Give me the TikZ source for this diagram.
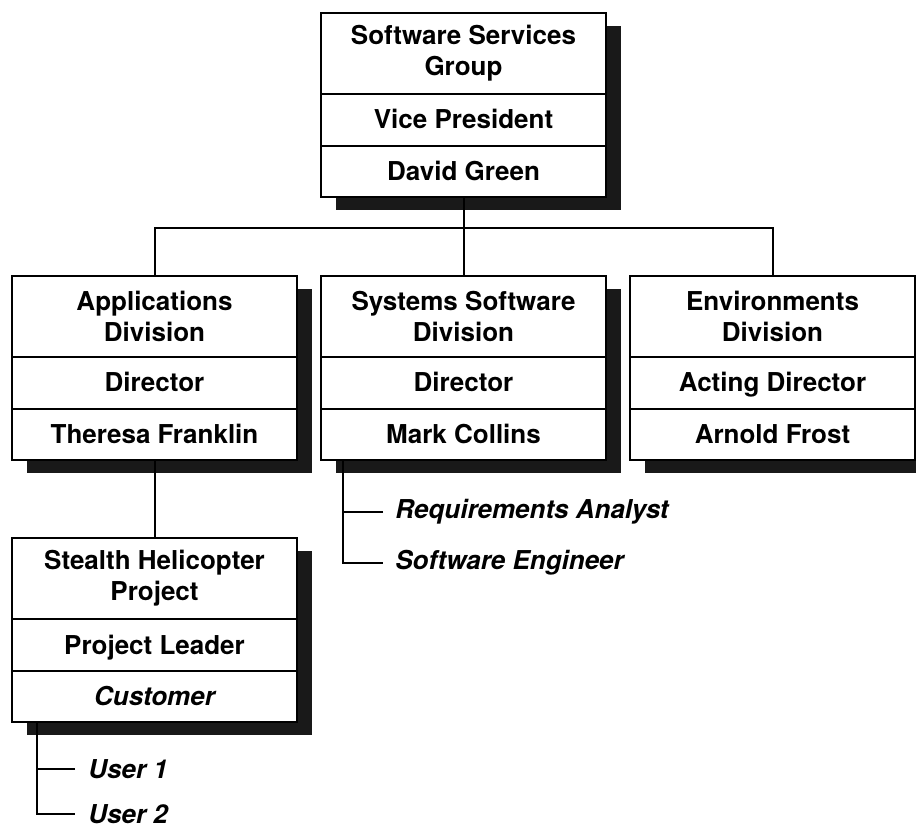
\documentclass[tikz,border=0pt]{standalone}
\usepackage{fontspec}
\setmainfont{TeX Gyre Heros}
\usetikzlibrary{positioning, shadows}
\tikzset{%
	orgrow/.style={
		draw,
		line width=1.2pt,
		fill=white,
		inner sep=0pt,
		outer sep=0pt,
		minimum width=142.5pt,
		align=center,
		font=\fontsize{13}{15.5}\selectfont\bfseries,
		drop shadow={shadow xshift=7.5pt, shadow yshift=-6.5pt, fill=black!90, opacity=1}
	},
	titlerow/.style={orgrow, minimum height=40.5pt},
	rolerow/.style={orgrow, minimum height=26pt, text height=9.5pt, text depth=0.5pt},
	namerow/.style={orgrow, minimum height=25.5pt, text height=9.5pt, text depth=0.5pt},
	staffitem/.style={
		inner sep=0pt,
		anchor=west,
		font=\fontsize{13}{15.5}\selectfont\bfseries\itshape
	},
	link/.style={line width=1pt},
}

\begin{document}
\begin{tikzpicture}[x=0.5pt, y=-0.5pt]
	\useasboundingbox (0,0) rectangle (916,828);

	% Software Services Group
	\node[titlerow, anchor=north west] (ssg-a) at (321,13) {Software Services\\Group};
	\node[rolerow, below=0pt of ssg-a] (ssg-b) {Vice President};
	\node[namerow, below=0pt of ssg-b] (ssg-c) {David Green};

	% Applications Division
	\node[titlerow, anchor=north west] (app-a) at (12,276) {Applications\\Division};
	\node[rolerow, below=0pt of app-a] (app-b) {Director};
	\node[namerow, below=0pt of app-b] (app-c) {Theresa Franklin};

	% Systems Software Division
	\node[titlerow, anchor=north west] (sys-a) at (321,276) {Systems Software\\Division};
	\node[rolerow, below=0pt of sys-a] (sys-b) {Director};
	\node[namerow, below=0pt of sys-b] (sys-c) {Mark Collins};

	% Environments Division
	\node[titlerow, anchor=north west] (env-a) at (630,276) {Environments\\Division};
	\node[rolerow, below=0pt of env-a] (env-b) {Acting Director};
	\node[namerow, below=0pt of env-b] (env-c) {Arnold Frost};

	% Stealth Helicopter Project
	\node[titlerow, anchor=north west] (shp-a) at (12,538) {Stealth Helicopter\\Project};
	\node[rolerow, below=0pt of shp-a] (shp-b) {Project Leader};
	\node[namerow, below=0pt of shp-b] (shp-c) {\itshape Customer};

	% Draw the tree lines
	\coordinate (bus) at (463.5,228);
	\draw[link] (ssg-c.south) -- (bus);
	\draw[link] (app-a.north) |- (bus) -| (env-a.north);
	\draw[link] (sys-a.north) -- (sys-a.north |- bus);
	\draw[link] (app-c.south) -- (shp-a.north);

	% Staff of the systems division
	\node[staffitem] (reqa) at (395,512) {Requirements Analyst};
	\node[staffitem] (sweng) at (395,563) {Software Engineer};
	\coordinate (sysrail) at ([xshift=11pt]sys-c.south west);
	\draw[link] (sysrail) |- ([xshift=-6pt]sweng.west);
	\draw[link] ([xshift=-6pt]reqa.west) -- (reqa.west -| sysrail);

	% Users of the project
	\node[staffitem] (usr1) at (88,769) {User 1};
	\node[staffitem] (usr2) at (88,814) {User 2};
	\coordinate (shprail) at ([xshift=12.5pt]shp-c.south west);
	\draw[link] (shprail) |- ([xshift=-6.5pt]usr2.west);
	\draw[link] ([xshift=-6.5pt]usr1.west) -- (usr1.west -| shprail);
\end{tikzpicture}
\end{document}
